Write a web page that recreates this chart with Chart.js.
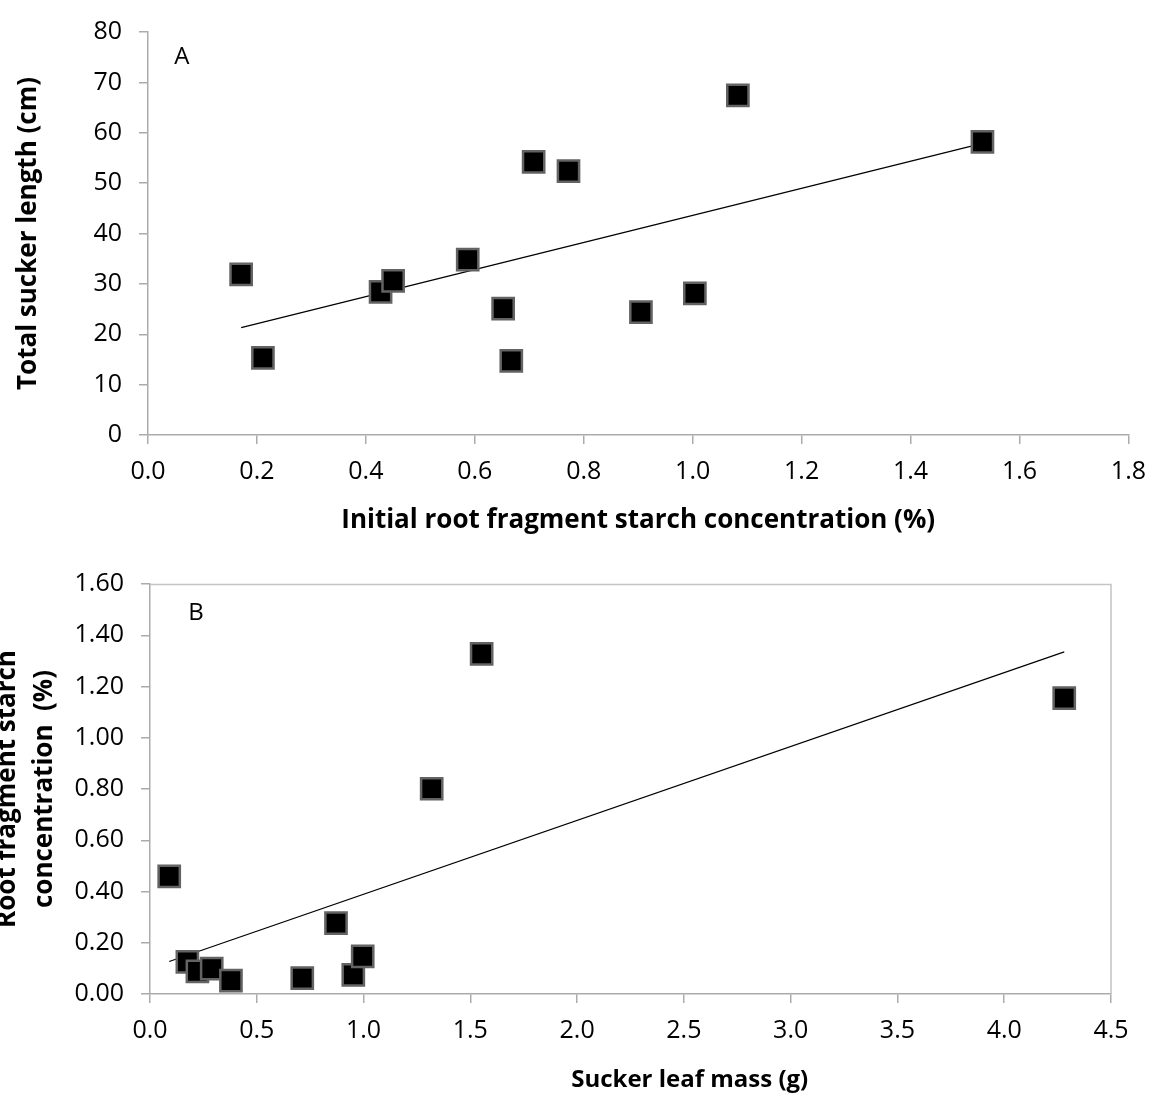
<!DOCTYPE html>
<html>
<head>
<meta charset="utf-8">
<script src="https://cdn.jsdelivr.net/npm/chart.js@4.4.1/dist/chart.umd.min.js"></script>
<style>
  html,body{margin:0;padding:0;background:#fff;}
  #wrap{position:relative;width:1159px;height:1099px;overflow:hidden;}
  #cA{position:absolute;left:0;top:0;}
  #cB{position:absolute;left:0;top:550px;}
</style>
</head>
<body>
<div id="wrap">
  <canvas id="cA" width="1159" height="550"></canvas>
  <canvas id="cB" width="1159" height="549"></canvas>
</div>
<script>
/* ---- panel A: starch vs sucker length ---- */
var aX=[0.171,0.211,0.427,0.450,0.587,0.652,0.667,0.708,0.772,0.905,1.004,1.083,1.532];
var aY=[31.9,15.3,28.4,30.6,34.8,25.1,14.7,54.2,52.4,24.4,28.1,67.4,58.2];
var aTrendX=[0.171,1.532];
var aTrendY=[21.3,57.9];

/* ---- panel B: leaf mass vs starch ---- */
var bX=[0.090,0.175,0.222,0.289,0.379,0.713,0.871,0.952,0.996,1.319,1.553,4.281];
var bY=[0.459,0.125,0.088,0.099,0.052,0.062,0.277,0.075,0.147,0.801,1.327,1.155];
var bTrendX=[0.090,4.281];
var bTrendY=[0.127,1.335];

var FONT='"Open Sans", Lato, sans-serif';
var AX_COL='#ababab';

function pts(xs,ys){return xs.map(function(x,i){return{x:x,y:ys[i]};});}

/* text labels placed at data positions (panel letters etc) */
var textLabels={
  id:'textLabels',
  afterDraw:function(ch,args,opts){
    var ctx=ch.ctx;ctx.save();
    (opts.items||[]).forEach(function(t){
      var x=t.px!=null?ch.chartArea.left+t.px*(ch.chartArea.right-ch.chartArea.left):ch.scales.x.getPixelForValue(t.x);
      var y=t.py!=null?t.py:ch.scales.y.getPixelForValue(t.y);
      ctx.font=t.font;ctx.fillStyle='#000';ctx.textAlign='center';ctx.textBaseline='middle';
      ctx.fillText(t.text,x,y);
    });
    ctx.restore();
  }
};
var boxBorder={
  id:'boxBorder',
  afterDatasetsDraw:function(ch,args,opts){
    if(!opts.show)return;
    var a=ch.chartArea,ctx=ch.ctx;ctx.save();
    ctx.strokeStyle=opts.color;ctx.lineWidth=1.5;
    ctx.beginPath();
    ctx.moveTo(a.left,a.top+0.5);ctx.lineTo(a.right,a.top+0.5);ctx.lineTo(a.right,a.bottom);
    ctx.stroke();ctx.restore();
  }
};

function mkChart(id,o){
  return new Chart(document.getElementById(id),{
    type:'scatter',
    data:{datasets:[
      {data:pts(o.tx,o.ty),showLine:true,borderColor:'#000',borderWidth:1.2,pointRadius:0,fill:false,order:2},
      {data:pts(o.xs,o.ys),pointStyle:'rect',pointRadius:15,backgroundColor:'#000',borderColor:'#636363',borderWidth:2.5,order:1}
    ]},
    plugins:[textLabels,boxBorder],
    options:{
      responsive:false,animation:false,
      layout:{padding:{top:o.padTop,right:o.padRight,left:0,bottom:0}},
      plugins:{legend:{display:false},tooltip:{enabled:false},
        textLabels:{items:o.labels},boxBorder:{show:o.box,color:'#c4c4c4'}},
      scales:{
        x:{type:'linear',min:o.xMin,max:o.xMax,
          ticks:{stepSize:o.xStep,padding:13,color:'#000',font:{family:FONT,size:25},maxRotation:0,
            callback:function(v){return v.toFixed(1);}},
          grid:{drawOnChartArea:false,drawTicks:true,tickLength:9,color:AX_COL,lineWidth:1.5},
          border:{display:true,color:AX_COL,width:1.5},
          title:{display:!!o.xTitle,text:o.xTitle,color:'#000',font:{family:FONT,size:26,weight:'bold'},padding:{top:0,bottom:o.xTitlePad}},
          afterFit:function(s){s.height=o.xHeight;}
        },
        y:{type:'linear',min:o.yMin,max:o.yMax,
          ticks:{stepSize:o.yStep,padding:17,color:'#000',font:{family:FONT,size:25},
            callback:function(v){return v.toFixed(o.yDec);}},
          grid:{drawOnChartArea:false,drawTicks:true,tickLength:9,color:AX_COL,lineWidth:1.5},
          border:{display:true,color:AX_COL,width:1.5},
          title:{display:true,text:o.yTitle,color:'#000',font:{family:FONT,size:26,weight:'bold',lineHeight:o.yLH},padding:{top:o.yTitlePad,bottom:0}},
          afterFit:function(s){s.width=o.yWidth;}
        }
      }
    }
  });
}

mkChart('cA',{
  xs:aX,ys:aY,tx:aTrendX,ty:aTrendY,
  xMin:0,xMax:1.8,xStep:0.2,yMin:0,yMax:80,yStep:10,yDec:0,
  padTop:22,padRight:27,xHeight:115,yWidth:148,
  xTitle:'Initial root fragment starch concentration (%)',xTitlePad:14,
  yTitle:'Total sucker length (cm)',yLH:1.2,yTitlePad:13,box:false,
  labels:[{text:'A',x:0.062,y:75.1,font:'24px '+FONT}]
});

mkChart('cB',{
  xs:bX,ys:bY,tx:bTrendX,ty:bTrendY,
  xMin:0,xMax:4.5,xStep:0.5,yMin:0,yMax:1.6,yStep:0.2,yDec:2,
  padTop:34,padRight:48,xHeight:105,yWidth:150,
  xTitle:'',xTitlePad:0,
  yTitle:['Root fragment starch','concentration  (%)'],yLH:1.42,yTitlePad:-10.5,box:true,
  labels:[{text:'B',x:0.215,y:1.488,font:'24px '+FONT},
          {text:'Sucker leaf mass (g)',px:0.5616,py:530,font:'bold 24px '+FONT}]
});
</script>
</body>
</html>
